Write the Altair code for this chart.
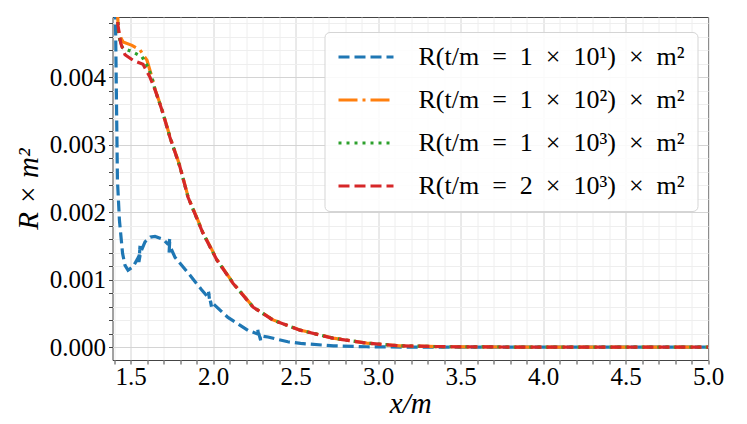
import altair as alt
import pandas as pd

SP = "\u2002"
series_names = [
    f"R(t/m{SP}={SP}1{SP}×{SP}10¹){SP}×{SP}m²",
    f"R(t/m{SP}={SP}1{SP}×{SP}10²){SP}×{SP}m²",
    f"R(t/m{SP}={SP}1{SP}×{SP}10³){SP}×{SP}m²",
    f"R(t/m{SP}={SP}2{SP}×{SP}10³){SP}×{SP}m²",
]
colors = ["#1f77b4", "#ff7f0e", "#2ca02c", "#d62728"]
dashes = [[11, 5], [19, 5, 3, 5], [3, 5], [11, 5]]

blue_x = [1.400, 1.408, 1.414, 1.420, 1.432, 1.451, 1.466, 1.484, 1.514, 1.540,
          1.552, 1.557, 1.550, 1.560, 1.587, 1.620, 1.648, 1.696, 1.725,
          1.732, 1.738, 1.733, 1.745, 1.769, 1.848, 1.930, 1.969,
          1.978, 1.972, 1.990, 1.985, 2.090, 2.211,
          2.275, 2.270, 2.288, 2.284, 2.332, 2.453, 2.530, 2.730, 2.930, 3.200, 5.000]
blue_y = [0.00620, 0.00489, 0.00366, 0.00247, 0.00188, 0.00139, 0.00121, 0.00114, 0.00119, 0.00130,
          0.00136, 0.00150, 0.00126, 0.00140, 0.00156, 0.00163, 0.00164, 0.00160, 0.00153,
          0.00152, 0.00162, 0.00140, 0.00146, 0.00133, 0.00110, 0.00085, 0.00074,
          0.00071, 0.00082, 0.00060, 0.00068, 0.00044, 0.00025,
          0.00019, 0.00027, 0.00010, 0.00017, 0.00015, 0.00008, 0.000055, 0.00002, 0.000006, 0.000001, 0.0]

tail_x = [1.648, 1.690, 1.738, 1.799, 1.848, 1.938, 2.023, 2.120, 2.242, 2.363,
          2.526, 2.726, 2.932, 3.132, 3.400, 3.800, 4.500, 5.000]

orange_x = [1.415, 1.420, 1.425, 1.432, 1.454, 1.508, 1.557, 1.599, 1.629] + tail_x
orange_y = [0.00600, 0.00500, 0.00470, 0.00462, 0.00452, 0.00447, 0.00440, 0.00425, 0.00400,
            0.00382, 0.00352, 0.00312, 0.00268, 0.00223, 0.00170, 0.00130, 0.000955, 0.000598, 0.000404,
            0.000255, 0.000135, 0.0000600, 0.0000195, 0.000007, 0.000002, 0.0000005, 0.0]

green_x = [1.415, 1.420, 1.426, 1.440, 1.454, 1.514, 1.569, 1.605, 1.629] + tail_x
green_y = [0.00600, 0.00500, 0.00465, 0.00448, 0.00443, 0.00437, 0.00430, 0.00415, 0.00399,
           0.00381, 0.00351, 0.00311, 0.00267, 0.00222, 0.00169, 0.00129, 0.000950, 0.000595, 0.000401,
           0.000253, 0.000134, 0.0000595, 0.0000193, 0.000007, 0.000002, 0.0000005, 0.0]

red_x = [1.412, 1.417, 1.423, 1.440, 1.466, 1.514, 1.575, 1.617] + tail_x
red_y = [0.00600, 0.00500, 0.00477, 0.00450, 0.00433, 0.00425, 0.00419, 0.00400,
         0.00381, 0.00351, 0.00311, 0.00267, 0.00222, 0.00169, 0.00129, 0.000948, 0.000593, 0.000400,
         0.000252, 0.000133, 0.0000593, 0.0000193, 0.000007, 0.000002, 0.0000005, 0.0]

x_ticks = [round(1.4 + 0.1 * k, 1) for k in range(37)]
y_ticks = [round(0.0002 * k, 4) for k in range(25)]

rows = []
for name, xs, ys in zip(series_names, [blue_x, orange_x, green_x, red_x], [blue_y, orange_y, green_y, red_y]):
    for i, (xv, yv) in enumerate(zip(xs, ys)):
        rows.append({"series": name, "x": xv, "y": yv, "i": i})
df = pd.DataFrame(rows)

FONT = "Liberation Serif"
MAJ = "#d4d4d4"
MIN = "#eeeeee"
xtest = "abs(datum.value*2 - round(datum.value*2)) < 1e-6"
ytest = "abs(datum.value*1000 - round(datum.value*1000)) < 1e-6"

legend = alt.Legend(
    title=None, orient="none", legendX=212, legendY=15,
    symbolType="stroke", symbolSize=3025, symbolStrokeWidth=3.2,
    labelFont=FONT, labelFontSize=26, labelLimit=600, labelOffset=23, labelColor="black",
    padding=12, rowPadding=17, clipHeight=26,
    fillColor="rgba(255,255,255,0.85)", strokeColor="#d5d5d5", cornerRadius=5,
)

enc = dict(
    x=alt.X("x:Q", scale=alt.Scale(domain=[1.39, 5.0], nice=False, zero=False),
            axis=alt.Axis(values=x_ticks, title="x/m",
                          labelExpr=f"{xtest} ? format(datum.value, '.1f') : ''",
                          gridColor={"condition": {"test": xtest, "value": MAJ}, "value": MIN},
                          labelPadding=0, titlePadding=0)),
    y=alt.Y("y:Q", scale=alt.Scale(domain=[-0.00019, 0.00489], nice=False, zero=False),
            axis=alt.Axis(values=y_ticks, title="R × m²",
                          labelExpr=f"{ytest} ? format(datum.value, '.3f') : ''",
                          gridColor={"condition": {"test": ytest, "value": MAJ}, "value": MIN},
                          labelPadding=3, titlePadding=6)),
    color=alt.Color("series:N", scale=alt.Scale(domain=series_names, range=colors), legend=legend),
    strokeDash=alt.StrokeDash("series:N", scale=alt.Scale(domain=series_names, range=dashes), legend=legend),
    order=alt.Order("i:Q"),
)

layers = [
    alt.Chart(df).transform_filter(alt.datum.series == name)
    .mark_line(strokeWidth=3.2, clip=True).encode(**enc)
    for name in series_names
]

chart = alt.layer(*layers).properties(
    width=595.5, height=343,
    padding={"left": 104.5, "top": 9, "right": 30, "bottom": 62},
    autosize=alt.AutoSizeParams(type="none"),
).configure_axis(
    labelFont=FONT, labelFontSize=25, labelColor="black",
    titleFont=FONT, titleFontSize=29, titleFontStyle="italic", titleFontWeight="normal", titleColor="black",
    domain=False, tickColor="#444", tickSize=4,
    labelOverlap=False, labelFlush=False, labelBound=False, gridWidth=1,
).configure_view(stroke="#444", strokeWidth=1)

chart.save("out.html", embed_options={"renderer": "svg", "actions": False})
